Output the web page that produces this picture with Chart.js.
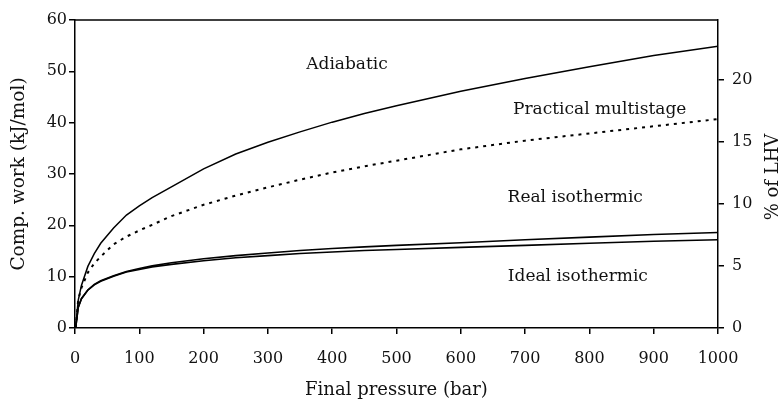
<!DOCTYPE html>
<html>
<head>
<meta charset="utf-8">
<title>Compression work</title>
<script src="https://cdn.jsdelivr.net/npm/chart.js@4"></script>
<style>
    body { margin: 0; background: #fff; }
    #wrap { width: 781px; height: 406px; position: relative; }
</style>
</head>
<body>
<div id="wrap"><canvas id="workChart"></canvas></div>
<script>
// Final pressure (bar)
const pressures = [1, 5, 10, 20, 30, 40, 60, 80, 100, 120, 150, 200, 250, 300, 350, 400, 450, 500, 600, 700, 800, 900, 1000];

// Compression work (kJ/mol)
const adiabatic = [0, 5.4, 8.3, 12.0, 14.5, 16.5, 19.5, 22.0, 23.8, 25.4, 27.5, 31.0, 33.9, 36.2, 38.2, 40.1, 41.8, 43.3, 46.1, 48.6, 50.9, 53.1, 54.9];
const practicalMultistage = [0, 5.5, 7.8, 10.8, 12.6, 13.9, 16.3, 17.8, 19.0, 20.1, 21.8, 24.0, 25.8, 27.4, 28.9, 30.3, 31.5, 32.6, 34.8, 36.5, 37.9, 39.3, 40.7];
const realIsothermic = [0, 4.0, 5.7, 7.4, 8.5, 9.2, 10.2, 11.0, 11.6, 12.1, 12.7, 13.5, 14.1, 14.6, 15.1, 15.5, 15.8, 16.1, 16.6, 17.2, 17.7, 18.2, 18.6];
const idealIsothermic = [0, 4.0, 5.7, 7.4, 8.4, 9.1, 10.1, 10.9, 11.4, 11.9, 12.4, 13.1, 13.7, 14.1, 14.5, 14.8, 15.1, 15.3, 15.7, 16.1, 16.5, 16.9, 17.2];

// curve names written inside the plot (pressure, work)
const curveLabels = [
    { text: 'Adiabatic', p: 423, w: 51.4 },
    { text: 'Practical multistage', p: 816, w: 42.5 },
    { text: 'Real isothermic', p: 778, w: 25.5 },
    { text: 'Ideal isothermic', p: 782, w: 10.1 }
];

const LHV = 241.8; // kJ/mol, hydrogen
const workMax = 60;

const FONT = "'DejaVu Serif', serif";

function toPoints(values) {
    return pressures.map((p, i) => ({ x: p, y: values[i] }));
}

// frame top edge, curve names and right-hand title
const extrasPlugin = {
    id: 'extras',
    afterDraw(chart) {
        const ctx = chart.ctx;
        const area = chart.chartArea;
        const xs = chart.scales.x;
        const ys = chart.scales.y;

        ctx.save();
        ctx.strokeStyle = '#000';
        ctx.lineWidth = 1.5;
        ctx.beginPath();
        ctx.moveTo(area.left, area.top);
        ctx.lineTo(area.right, area.top);
        ctx.stroke();

        ctx.fillStyle = '#111';
        ctx.font = '17px ' + FONT;
        ctx.textAlign = 'center';
        ctx.textBaseline = 'middle';
        curveLabels.forEach(l => {
            ctx.fillText(l.text, xs.getPixelForValue(l.p), ys.getPixelForValue(l.w));
        });

        ctx.font = '18px ' + FONT;
        ctx.translate(773, 177);
        ctx.rotate(-Math.PI / 2);
        ctx.fillText('% of LHV', 0, 0);
        ctx.restore();
    }
};

document.addEventListener('DOMContentLoaded', () => {
    const lineBase = {
        borderColor: '#000',
        pointRadius: 0,
        tension: 0,
        fill: false
    };
    const plainNumber = v => String(v);

    new Chart(document.getElementById('workChart'), {
        type: 'line',
        data: {
            datasets: [
                { ...lineBase, label: 'Adiabatic', data: toPoints(adiabatic), borderWidth: 1.5 },
                { ...lineBase, label: 'Practical multistage', data: toPoints(practicalMultistage), borderWidth: 2, borderDash: [3, 5] },
                { ...lineBase, label: 'Real isothermic', data: toPoints(realIsothermic), borderWidth: 1.6 },
                { ...lineBase, label: 'Ideal isothermic', data: toPoints(idealIsothermic), borderWidth: 1.6 }
            ]
        },
        options: {
            responsive: true,
            maintainAspectRatio: false,
            animation: false,
            layout: { padding: { top: 20, left: 0, right: 0, bottom: 0 } },
            plugins: {
                legend: { display: false },
                tooltip: { enabled: false }
            },
            scales: {
                x: {
                    type: 'linear',
                    min: 0,
                    max: 1000,
                    ticks: { stepSize: 100, callback: plainNumber, color: '#111', padding: 15, font: { family: FONT, size: 16 } },
                    grid: { drawOnChartArea: false, tickLength: 6, color: '#000', lineWidth: 1.5 },
                    border: { color: '#000', width: 1.5 },
                    title: { display: true, text: 'Final pressure (bar)', color: '#111', padding: { bottom: 5 }, font: { family: FONT, size: 18 } },
                    afterFit(scale) { scale.height = 78; }
                },
                y: {
                    position: 'left',
                    min: 0,
                    max: workMax,
                    ticks: { stepSize: 10, callback: plainNumber, color: '#111', padding: 2, font: { family: FONT, size: 16 } },
                    grid: { drawOnChartArea: false, tickLength: 6, color: '#000', lineWidth: 1.5 },
                    border: { color: '#000', width: 1.5 },
                    title: { display: true, text: 'Comp. work (kJ/mol)', color: '#111', padding: { top: 8 }, font: { family: FONT, size: 18.5 } },
                    afterFit(scale) { scale.width = 75; }
                },
                y2: {
                    position: 'right',
                    min: 0,
                    max: workMax / LHV * 100,
                    ticks: { stepSize: 5, includeBounds: false, callback: plainNumber, color: '#111', padding: 8, font: { family: FONT, size: 16 } },
                    grid: { drawOnChartArea: false, tickLength: 6, color: '#000', lineWidth: 1.5 },
                    border: { color: '#000', width: 1.5 },
                    afterFit(scale) { scale.width = 63; }
                }
            }
        },
        plugins: [extrasPlugin]
    });
});
</script>
</body>
</html>
